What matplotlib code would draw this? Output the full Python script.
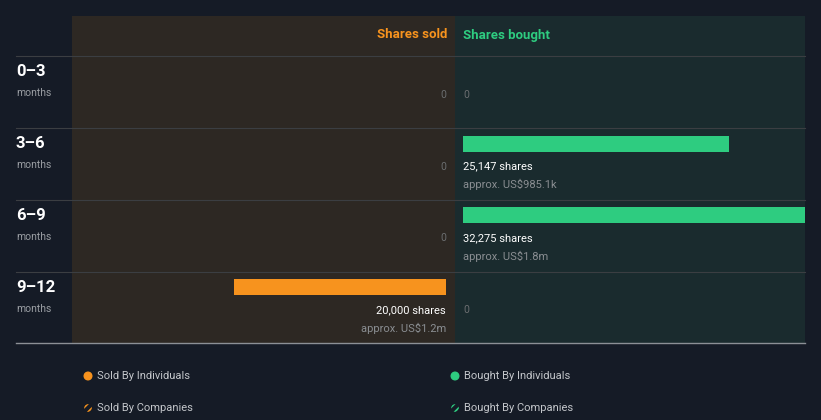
import matplotlib.pyplot as plt
from matplotlib.patches import Circle

plt.rcParams['font.family'] = ['Roboto', 'DejaVu Sans']
plt.rcParams['hatch.linewidth'] = 1.3

# data
periods = ['0\u20133', '3\u20136', '6\u20139', '9\u201312']
sold = [0, 0, 0, 20000]
bought = [0, 25147, 32275, 0]
sold_value = ['', '', '', 'approx. US$1.2m']
bought_value = ['', 'approx. US$985.1k', 'approx. US$1.8m', '']

W, H = 821, 420
BG = '#151b26'
SOLD_BG = '#2d2823'
BOUGHT_BG = '#1a2b2e'
ORANGE = '#f7931e'
GREEN = '#2ecc80'
GRID = '#3b3e42'

fig = plt.figure(figsize=(W / 100, H / 100), dpi=100, facecolor=BG)


def fx(x):
    return x / W


def fy(y):
    return 1 - y / H


top, bottom = 16, 343
header = 40
row_h = 72
scale = max(bought) / 342.0  # shares per pixel

# sold panel (x grows to the left)
ax_s = fig.add_axes([fx(72), fy(bottom), 383 / W, (bottom - top) / H])
ax_s.set_facecolor(SOLD_BG)
ax_s.set_xlim((383 - 9) * scale, -9 * scale)
# bought panel
ax_b = fig.add_axes([fx(455), fy(bottom), 350 / W, (bottom - top) / H])
ax_b.set_facecolor(BOUGHT_BG)
ax_b.set_xlim(-8 * scale, 342 * scale)

ylim = (len(periods), -header / row_h)
for ax in (ax_s, ax_b):
    ax.set_ylim(*ylim)
    ax.set_xticks([])
    ax.set_yticks([])
    for s in ax.spines.values():
        s.set_visible(False)

rows = list(range(len(periods)))
bar_c = [r + 16 / row_h for r in rows]
ax_s.barh(bar_c, sold, height=16 / row_h, color=ORANGE)
ax_b.barh(bar_c, bought, height=16 / row_h, color=GREEN)

for r in rows:
    yl = r + 39 / row_h
    yv = r + 57 / row_h
    if sold[r] > 0:
        ax_s.text(0, yl, f'{sold[r]:,} shares', color='white', fontsize=8,
                  ha='right', va='center')
        ax_s.text(0, yv, sold_value[r], color='#8a8e92', fontsize=8,
                  ha='right', va='center')
    else:
        ax_s.text(0, yl, '0', color='#6b6e70', fontsize=7.5, ha='right', va='center')
    if bought[r] > 0:
        ax_b.text(0, yl, f'{bought[r]:,} shares', color='white', fontsize=8,
                  ha='left', va='center')
        ax_b.text(0, yv, bought_value[r], color='#8a8e92', fontsize=8,
                  ha='left', va='center')
    else:
        ax_b.text(0, yl, '0', color='#6b6e70', fontsize=7.5, ha='left', va='center')

# overlay for lines, labels, legend
ov = fig.add_axes([0, 0, 1, 1])
ov.set_xlim(0, W)
ov.set_ylim(H, 0)
ov.axis('off')
ov.patch.set_alpha(0)

for r in rows:
    y = top + header + r * row_h
    ov.plot([16, 805], [y, y], color=GRID, lw=0.8)
    ov.text(16, y + 15, periods[r], color='white', fontsize=12,
            fontweight='bold', ha='left', va='center')
    ov.text(16, y + 37, 'months', color='#9a9ea3', fontsize=7.5,
            ha='left', va='center')
ov.plot([16, 805], [bottom, bottom], color='#8c9096', lw=1)

ov.text(447, 35, 'Shares sold', color=ORANGE, fontsize=9.5,
        fontweight='bold', ha='right', va='center')
ov.text(463, 35, 'Shares bought', color=GREEN, fontsize=9.5,
        fontweight='bold', ha='left', va='center')

# legend
legend = [(88, 376, ORANGE, False, 'Sold By Individuals'),
          (455, 376, GREEN, False, 'Bought By Individuals'),
          (88, 408, ORANGE, True, 'Sold By Companies'),
          (455, 408, GREEN, True, 'Bought By Companies')]
for x, y, c, hatched, lab in legend:
    if hatched:
        ov.add_patch(Circle((x, y), 3.8, facecolor=BG, edgecolor=c,
                            hatch='////', lw=0))
    else:
        ov.add_patch(Circle((x, y), 3.8, color=c))
    ov.text(x + 9, y, lab, color='#c3c6ca', fontsize=8, ha='left', va='center')

fig.savefig('out.png', dpi=100, facecolor=BG)
